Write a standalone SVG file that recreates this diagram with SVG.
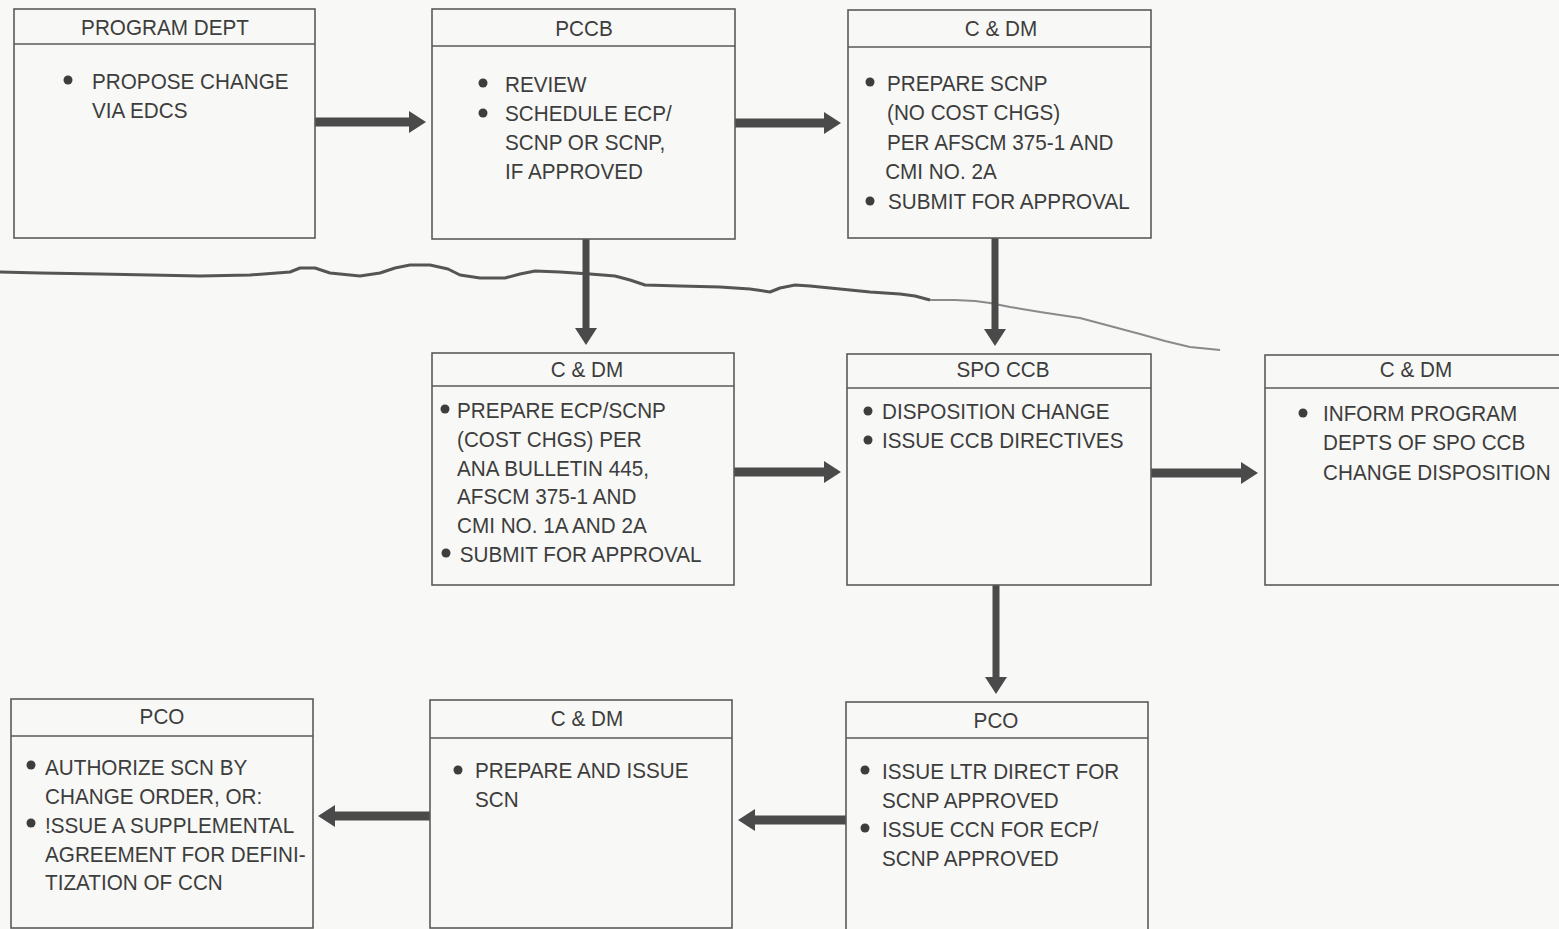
<svg xmlns="http://www.w3.org/2000/svg" width="1559" height="929" viewBox="0 0 1559 929">
<defs>
<style>
.bg{fill:#f8f8f6}
.box{fill:none;stroke:#5a5a5a;stroke-width:1.6}
.hd{stroke:#5a5a5a;stroke-width:1.6}
.t{font-family:"Liberation Sans",Arial,sans-serif;font-size:22.5px;fill:#3d3d3d}
.m{text-anchor:middle}
.b{fill:#3d3d3d}
.ch{stroke:#4a4a4a;stroke-width:9;fill:none}
.cv{stroke:#4a4a4a;stroke-width:7;fill:none}
.tear{fill:none;stroke:#555;stroke-width:3;stroke-linejoin:round}
.tear2{fill:none;stroke:#8a8a8a;stroke-width:2;stroke-linejoin:round}
</style>
<marker id="ah" markerUnits="userSpaceOnUse" markerWidth="18" markerHeight="24" refX="0" refY="11" orient="auto">
<path d="M0,0 L17,11 L0,22 Z" fill="#4a4a4a"/>
</marker>
</defs>
<rect class="bg" x="0" y="0" width="1559" height="929"/>

<g id="tear">
<path class="tear" d="M0,272 L40,273 L100,274 L150,275 L200,276 L250,275 L290,272 L300,268 L315,268 L330,273 L360,276 L380,273 L395,268 L410,265 L430,265 L448,269 L460,275 L480,278 L505,278 L520,274 L535,271 L560,272 L590,274 L615,276 L630,280 L645,285 L680,286 L720,287 L750,289 L770,292 L780,288 L795,285 L810,286 L840,289 L870,292 L900,294 L915,296 L930,300"/>
<path class="tear2" d="M930,300 L955,300 L975,301 L990,303 L1010,307 L1040,312 L1080,318 L1110,326 L1140,334 L1165,341 L1190,347 L1220,350"/>
</g>

<g id="connectors">
<line class="ch" x1="315" y1="122" x2="409" y2="122" marker-end="url(#ah)"/>
<line class="ch" x1="735" y1="123" x2="824" y2="123" marker-end="url(#ah)"/>
<line class="cv" x1="586" y1="239" x2="586" y2="328" marker-end="url(#ah)"/>
<line class="cv" x1="995" y1="238" x2="995" y2="329" marker-end="url(#ah)"/>
<line class="ch" x1="734" y1="472" x2="824" y2="472" marker-end="url(#ah)"/>
<line class="ch" x1="1151" y1="473" x2="1241" y2="473" marker-end="url(#ah)"/>
<line class="cv" x1="996" y1="585" x2="996" y2="677" marker-end="url(#ah)"/>
<line class="ch" x1="846" y1="820" x2="755" y2="820" marker-end="url(#ah)"/>
<line class="ch" x1="430" y1="816" x2="335" y2="816" marker-end="url(#ah)"/>
</g>

<g id="program-dept">
<rect class="box" x="14" y="9" width="301" height="229"/>
<line class="hd" x1="14" y1="44" x2="315" y2="44"/>
<text class="t m" transform="translate(165 35) scale(.92 1)">PROGRAM DEPT</text>
<circle class="b" cx="68" cy="80" r="4.5"/>
<text class="t" transform="translate(92 89) scale(.92 1)"><tspan x="0">PROPOSE CHANGE</tspan><tspan x="0" dy="29">VIA EDCS</tspan></text>
</g>

<g id="pccb">
<rect class="box" x="432" y="9" width="303" height="230"/>
<line class="hd" x1="432" y1="46" x2="735" y2="46"/>
<text class="t m" transform="translate(584 36) scale(.92 1)">PCCB</text>
<circle class="b" cx="483" cy="83" r="4.5"/>
<circle class="b" cx="483" cy="113" r="4.5"/>
<text class="t" transform="translate(505 92) scale(.92 1)"><tspan x="0">REVIEW</tspan><tspan x="0" dy="29">SCHEDULE ECP/</tspan><tspan x="0" dy="29">SCNP OR SCNP,</tspan><tspan x="0" dy="29">IF APPROVED</tspan></text>
</g>

<g id="cdm-top">
<rect class="box" x="848" y="10" width="303" height="228"/>
<line class="hd" x1="848" y1="47" x2="1151" y2="47"/>
<text class="t m" transform="translate(1001 36) scale(.92 1)">C &amp; DM</text>
<circle class="b" cx="870" cy="82" r="4.5"/>
<circle class="b" cx="870" cy="201" r="4.5"/>
<text class="t" transform="translate(887 91) scale(.92 1)"><tspan x="0">PREPARE SCNP</tspan><tspan x="0" dy="29.5">(NO COST CHGS)</tspan><tspan x="0" dy="29.5">PER AFSCM 375-1 AND</tspan><tspan x="-2" dy="29.5">CMI NO. 2A</tspan><tspan x="1" dy="29.5">SUBMIT FOR APPROVAL</tspan></text>
</g>

<g id="cdm-mid">
<rect class="box" x="432" y="353" width="302" height="232"/>
<line class="hd" x1="432" y1="386" x2="734" y2="386"/>
<text class="t m" transform="translate(587 377) scale(.92 1)">C &amp; DM</text>
<circle class="b" cx="445" cy="409" r="4.5"/>
<circle class="b" cx="446" cy="553" r="4.5"/>
<text class="t" transform="translate(457 418) scale(.92 1)"><tspan x="0">PREPARE ECP/SCNP</tspan><tspan x="0" dy="29">(COST CHGS) PER</tspan><tspan x="0" dy="29">ANA BULLETIN 445,</tspan><tspan x="0" dy="28.5">AFSCM 375-1 AND</tspan><tspan x="0" dy="29">CMI NO. 1A AND 2A</tspan><tspan x="3" dy="29">SUBMIT FOR APPROVAL</tspan></text>
</g>

<g id="spo-ccb">
<rect class="box" x="847" y="354" width="304" height="231"/>
<line class="hd" x1="847" y1="388" x2="1151" y2="388"/>
<text class="t m" transform="translate(1003 377) scale(.92 1)">SPO CCB</text>
<circle class="b" cx="868" cy="411" r="4.5"/>
<circle class="b" cx="868" cy="440" r="4.5"/>
<text class="t" transform="translate(882 419) scale(.92 1)"><tspan x="0">DISPOSITION CHANGE</tspan><tspan x="0" dy="29">ISSUE CCB DIRECTIVES</tspan></text>
</g>

<g id="cdm-right">
<rect class="box" x="1265" y="355" width="303" height="230"/>
<line class="hd" x1="1265" y1="388" x2="1568" y2="388"/>
<text class="t m" transform="translate(1416 377) scale(.92 1)">C &amp; DM</text>
<circle class="b" cx="1303" cy="413" r="4.5"/>
<text class="t" transform="translate(1323 421) scale(.92 1)"><tspan x="0">INFORM PROGRAM</tspan><tspan x="0" dy="29.5">DEPTS OF SPO CCB</tspan><tspan x="0" dy="29.5">CHANGE DISPOSITION</tspan></text>
</g>

<g id="pco-left">
<rect class="box" x="11" y="699" width="302" height="229"/>
<line class="hd" x1="11" y1="736" x2="313" y2="736"/>
<text class="t m" transform="translate(162 724) scale(.92 1)">PCO</text>
<circle class="b" cx="31" cy="765" r="4.5"/>
<circle class="b" cx="31" cy="823" r="4.5"/>
<text class="t" transform="translate(45 775) scale(.92 1)"><tspan x="0">AUTHORIZE SCN BY</tspan><tspan x="0" dy="29">CHANGE ORDER, OR:</tspan><tspan x="0" dy="29">!SSUE A SUPPLEMENTAL</tspan><tspan x="0" dy="29">AGREEMENT FOR DEFINI-</tspan><tspan x="0" dy="28.5">TIZATION OF CCN</tspan></text>
</g>

<g id="cdm-bottom">
<rect class="box" x="430" y="700" width="302" height="228"/>
<line class="hd" x1="430" y1="738" x2="732" y2="738"/>
<text class="t m" transform="translate(587 726) scale(.92 1)">C &amp; DM</text>
<circle class="b" cx="458" cy="770" r="4.5"/>
<text class="t" transform="translate(475 778) scale(.92 1)"><tspan x="0">PREPARE AND ISSUE</tspan><tspan x="0" dy="29">SCN</tspan></text>
</g>

<g id="pco-right">
<rect class="box" x="846" y="702" width="302" height="240"/>
<line class="hd" x1="846" y1="738" x2="1148" y2="738"/>
<text class="t m" transform="translate(996 728) scale(.92 1)">PCO</text>
<circle class="b" cx="865" cy="770" r="4.5"/>
<circle class="b" cx="865" cy="828" r="4.5"/>
<text class="t" transform="translate(882 779) scale(.92 1)"><tspan x="0">ISSUE LTR DIRECT FOR</tspan><tspan x="0" dy="29">SCNP APPROVED</tspan><tspan x="0" dy="29">ISSUE CCN FOR ECP/</tspan><tspan x="0" dy="29">SCNP APPROVED</tspan></text>
</g>
</svg>
